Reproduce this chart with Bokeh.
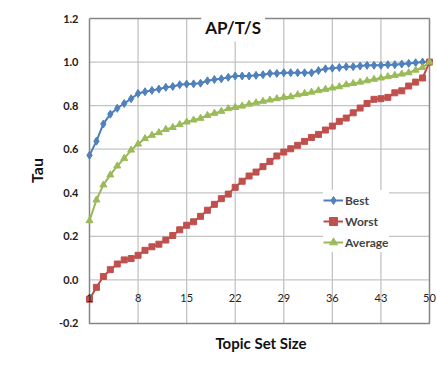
from bokeh.plotting import figure
from bokeh.models import (FixedTicker, Label, Legend, LegendItem, Range1d,
                          CustomJSTickFormatter, LinearAxis, AllLabels)
from bokeh.embed import file_html
from bokeh.resources import INLINE

topic_set_size = list(range(1, 51))
best = [0.572, 0.637, 0.716, 0.761, 0.788, 0.810, 0.832, 0.856, 0.864, 0.870,
        0.876, 0.884, 0.888, 0.896, 0.899, 0.900, 0.903, 0.914, 0.920, 0.923,
        0.930, 0.936, 0.936, 0.936, 0.939, 0.942, 0.948, 0.948, 0.951, 0.951,
        0.951, 0.951, 0.951, 0.961, 0.969, 0.972, 0.975, 0.979, 0.979, 0.982,
        0.985, 0.985, 0.985, 0.988, 0.988, 0.991, 0.994, 0.997, 1.000, 1.000]
worst = [-0.089, -0.034, 0.016, 0.047, 0.073, 0.092, 0.098, 0.113, 0.136, 0.152,
         0.164, 0.183, 0.204, 0.230, 0.251, 0.267, 0.292, 0.320, 0.347, 0.373,
         0.394, 0.425, 0.453, 0.477, 0.495, 0.520, 0.544, 0.569, 0.587, 0.602,
         0.618, 0.636, 0.654, 0.668, 0.688, 0.706, 0.728, 0.743, 0.767, 0.789,
         0.810, 0.829, 0.832, 0.838, 0.859, 0.868, 0.890, 0.908, 0.927, 1.000]
average = [0.272, 0.367, 0.436, 0.482, 0.523, 0.558, 0.596, 0.624, 0.649, 0.664,
           0.676, 0.691, 0.700, 0.713, 0.725, 0.734, 0.742, 0.755, 0.765, 0.774,
           0.786, 0.792, 0.798, 0.807, 0.813, 0.820, 0.826, 0.832, 0.838, 0.841,
           0.850, 0.856, 0.862, 0.869, 0.875, 0.881, 0.887, 0.896, 0.902, 0.908,
           0.914, 0.921, 0.927, 0.933, 0.939, 0.945, 0.951, 0.963, 0.975, 1.000]
x_ticks = [1, 8, 15, 22, 29, 36, 43, 50]
y_ticks = [-0.2, 0.0, 0.2, 0.4, 0.6, 0.8, 1.0, 1.2]

FONT = "Lato"
X0, X1 = x_ticks[0], x_ticks[-1]
Y0, Y1 = y_ticks[0], y_ticks[-1]

p = figure(width=437, height=369, output_backend="svg", toolbar_location=None,
           x_range=Range1d(0.2794, 51.153), y_range=Range1d(-0.2138, 1.2184),
           min_border_left=84, min_border_right=0, min_border_top=14, min_border_bottom=43)
p.outline_line_color = None
p.background_fill_color = "white"
p.border_fill_color = "white"
p.xgrid.grid_line_color = None
p.ygrid.grid_line_color = None

# gridlines and plot-area border
gx = x_ticks[1:-1]
p.multi_line(xs=[[x, x] for x in gx], ys=[[Y0, Y1]] * len(gx), line_color="#c4c4c4", line_width=1.3)
gy = y_ticks[1:-1]
p.multi_line(xs=[[X0, X1]] * len(gy), ys=[[y, y] for y in gy], line_color="#c4c4c4", line_width=1.3)
p.line(x=[X0, X0, X1, X1, X0], y=[Y1, Y0, Y0, Y1, Y1], line_color="#868686", line_width=1.5)

xa = p.xaxis[0]
xa.ticker = FixedTicker(ticks=[])
xa.axis_line_color = None
xa.major_tick_line_color = None
xa.minor_tick_line_color = None
xa.major_tick_out = 0
xa.major_label_standoff = 0
xa.axis_label = "Topic Set Size"
xa.axis_label_text_font = FONT
xa.axis_label_text_font_style = "bold"
xa.axis_label_text_font_size = "15px"
xa.axis_label_text_color = "#111111"
xa.axis_label_standoff = 7

xz = LinearAxis(ticker=FixedTicker(ticks=x_ticks), fixed_location=0, level="overlay",
                major_label_policy=AllLabels(),
                axis_line_color=None, major_tick_line_color=None, minor_tick_line_color=None,
                major_tick_out=10, major_label_standoff=4, major_label_text_font=FONT,
                major_label_text_font_size="11px", major_label_text_color="#222222")
p.add_layout(xz, "below")

ya = p.yaxis[0]
ya.ticker = FixedTicker(ticks=y_ticks)
ya.formatter = CustomJSTickFormatter(code="return tick.toFixed(1);")
ya.axis_line_color = None
ya.major_tick_line_color = None
ya.minor_tick_line_color = None
ya.major_tick_out = 0
ya.major_label_standoff = 6
ya.major_label_text_font = FONT
ya.major_label_text_font_style = "bold"
ya.major_label_text_font_size = "11px"
ya.major_label_text_color = "#222222"
ya.axis_label = "Tau"
ya.axis_label_text_font = FONT
ya.axis_label_text_font_style = "bold"
ya.axis_label_text_font_size = "16px"
ya.axis_label_text_color = "#111111"
ya.axis_label_standoff = 10

bl = p.line(topic_set_size, best, line_color="#4A7EBB", line_width=2)
bm = p.scatter(topic_set_size, best, marker="diamond", size=8, fill_color="#4F81BD", line_color="#4F81BD")
wl = p.line(topic_set_size, worst, line_color="#BE4B48", line_width=2)
wm = p.scatter(topic_set_size, worst, marker="square", size=6, fill_color="#C0504D", line_color="#C0504D")
al = p.line(topic_set_size, average, line_color="#98B954", line_width=2)
am = p.scatter(topic_set_size, average, marker="triangle", size=7, fill_color="#9BBB59", line_color="#9BBB59")

legend = Legend(items=[LegendItem(label="Best", renderers=[bl, bm]),
                       LegendItem(label="Worst", renderers=[wl, wm]),
                       LegendItem(label="Average", renderers=[al, am])],
                location=(239, 74), padding=2, spacing=1, glyph_width=20,
                label_standoff=2, label_text_font=FONT, label_text_font_style="bold",
                label_text_font_size="12px", label_height=20, glyph_height=20,
                border_line_color=None, background_fill_color="white",
                background_fill_alpha=1.0, margin=0)
p.add_layout(legend)

title = Label(x=21.7, y=Y1, text="AP/T/S", text_align="center", text_baseline="top",
              y_offset=6, text_font=FONT, text_font_style="bold", text_font_size="17px",
              background_fill_color="white", padding=4, text_color="#111111")
p.add_layout(title)

open("out.html", "w").write(file_html(p, INLINE))
